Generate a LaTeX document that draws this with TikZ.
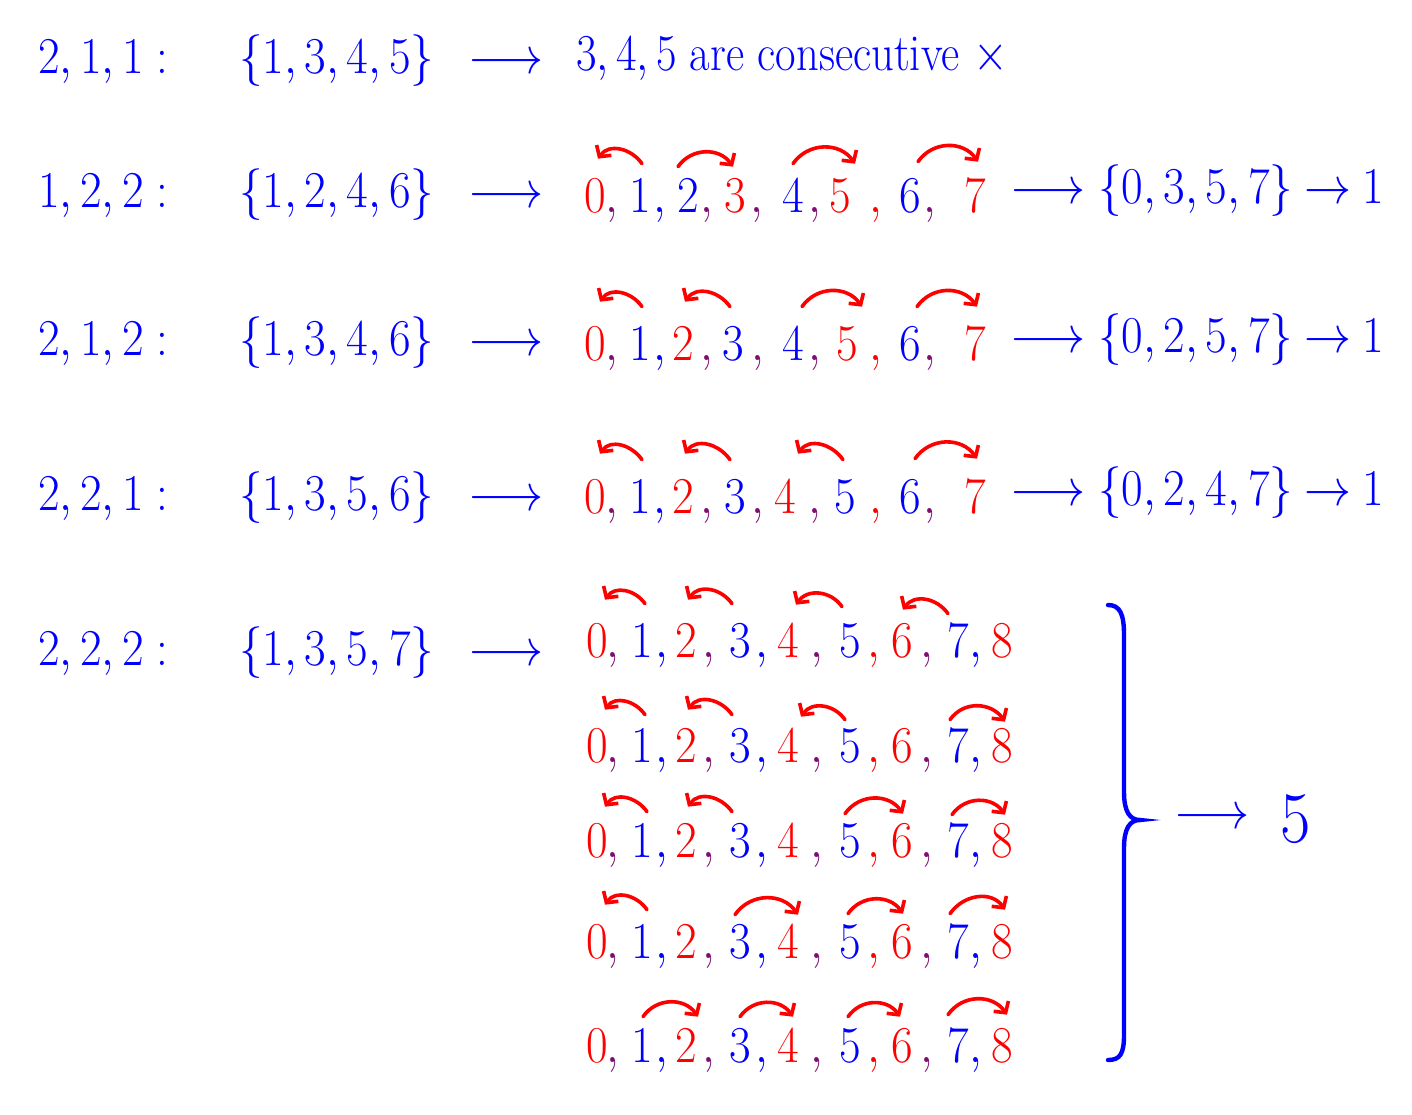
\RequirePackage{fix-cm}
\documentclass[tikz,border=0pt]{standalone}
\usepackage{graphicx}
\usetikzlibrary{arrows.meta}
\definecolor{commapurple}{rgb}{0.5,0.05,0.45}
\newcommand\V[1]{\scalebox{1}[1.1]{$#1$}}
\newcommand\C{\makebox[0pt]{$,$}}
\newcommand\jr[6]{\draw[jump] ([shift={(#2,#3)}]#1.north) to[out=55,in=125,looseness=1.1] ([shift={(#5,#6)}]#4.north);}
\newcommand\jl[6]{\draw[jump] ([shift={(#2,#3)}]#1.north) to[out=125,in=55,looseness=1.1] ([shift={(#5,#6)}]#4.north);}
\tikzset{
  lab/.style={inner sep=0pt, outer sep=0pt, font=\fontsize{23.5}{28}\selectfont},
  bl/.style={lab, text=blue, anchor=base},
  rd/.style={lab, text=red, anchor=base},
  pu/.style={lab, text=commapurple, anchor=base},
  blw/.style={lab, text=blue, anchor=base west},
  jump/.style={draw=red, line width=1.8pt, -{Straight Barb[length=4pt,width=9pt]}, line cap=round},
  brace/.style={draw=blue, line width=2.2pt, line cap=round},
}
\begin{document}
\begin{tikzpicture}[x=0.5pt,y=-0.5pt]
\fill[white] (0,0) rectangle (1412,1114);
\useasboundingbox (0,0) rectangle (1412,1114);
% ---------- left column ----------
\node[blw] (l1) at (38,73) {\V{2,1,1:}};
\node[blw] (s1) at (239,73) {\V{\{1,3,4,5\}}};
\node[blw] (a1) at (468,73) {\V{\longrightarrow}};
\node[blw, font=\fontsize{22.3}{27}\selectfont] (t1) at (576,70) {\scalebox{1}[1.16]{$3,4,5$ are consecutive $\times$}};

\node[blw] (l2) at (38,207) {\V{1,2,2:}};
\node[blw] (s2) at (239,207) {\V{\{1,2,4,6\}}};
\node[blw] (a2) at (468,207) {\V{\longrightarrow}};

\node[blw] (l3) at (38,355) {\V{2,1,2:}};
\node[blw] (s3) at (239,355) {\V{\{1,3,4,6\}}};
\node[blw] (a3) at (468,355) {\V{\longrightarrow}};

\node[blw] (l4) at (38,510) {\V{2,2,1:}};
\node[blw] (s4) at (239,510) {\V{\{1,3,5,6\}}};
\node[blw] (a4) at (468,510) {\V{\longrightarrow}};

\node[blw] (l5) at (38,665) {\V{2,2,2:}};
\node[blw] (s5) at (239,665) {\V{\{1,3,5,7\}}};
\node[blw] (a5) at (468,665) {\V{\longrightarrow}};

% ---------- row 2 : 1,2,2 ----------
\foreach \n/\x/\c in {0/595/rd,1/640/bl,2/688/bl,3/735/rd,4/793/bl,5/840/rd,6/910/bl,7/975/rd}
  \node[\c] (r2d\n) at (\x,212) {\V{\n}};
\foreach \x/\c [count=\i] in {612/pu,660/bl,707/pu,757/pu,815/pu,876/rd,930/pu}
  \node[\c] (r2c\i) at (\x,212) {\V{\C}};
\jl{r2d1}{2}{-15}{r2d0}{3}{-20}
\jr{r2d2}{-10}{-12}{r2d3}{-2}{-12}
\jr{r2d4}{0}{-15}{r2d5}{15}{-15}
\jr{r2d6}{8}{-17}{r2d7}{3}{-17}
\node[blw] (ra2) at (1010,203) {\V{\longrightarrow}};
\node[blw] (rs2) at (1098,203) {\V{\{0,3,5,7\}}};
\node[blw] (rr2) at (1304,203) {\V{\rightarrow}};
\node[blw] (rn2) at (1362,203) {\V{1}};

% ---------- row 3 : 2,1,2 ----------
\foreach \n/\x/\c in {0/595/rd,1/640/bl,2/683/rd,3/733/bl,4/793/bl,5/847/rd,6/910/bl,7/975/rd}
  \node[\c] (r3d\n) at (\x,360) {\V{\n}};
\foreach \x/\c [count=\i] in {612/pu,660/bl,707/pu,758/pu,815/pu,876/rd,930/pu}
  \node[\c] (r3c\i) at (\x,360) {\V{\C}};
\jl{r3d1}{2}{-20}{r3d0}{5}{-25}
\jl{r3d3}{-3}{-20}{r3d2}{2}{-25}
\jr{r3d4}{9}{-20}{r3d5}{15}{-20}
\jr{r3d6}{7}{-20}{r3d7}{2}{-20}
\node[blw] (ra3) at (1010,352) {\V{\longrightarrow}};
\node[blw] (rs3) at (1098,352) {\V{\{0,2,5,7\}}};
\node[blw] (rr3) at (1304,352) {\V{\rightarrow}};
\node[blw] (rn3) at (1362,352) {\V{1}};

% ---------- row 4 : 2,2,1 ----------
\foreach \n/\x/\c in {0/595/rd,1/640/bl,2/683/rd,3/735/bl,4/785/rd,5/845/bl,6/910/bl,7/975/rd}
  \node[\c] (r4d\n) at (\x,513) {\V{\n}};
\foreach \x/\c [count=\i] in {612/pu,660/bl,707/pu,758/pu,815/pu,876/rd,930/pu}
  \node[\c] (r4c\i) at (\x,513) {\V{\C}};
\jl{r4d1}{2}{-20}{r4d0}{5}{-26}
\jl{r4d3}{-5}{-20}{r4d2}{2}{-26}
\jl{r4d5}{-2}{-20}{r4d4}{13}{-26}
\jr{r4d6}{5}{-21}{r4d7}{2}{-21}
\node[blw] (ra4) at (1010,505) {\V{\longrightarrow}};
\node[blw] (rs4) at (1098,505) {\V{\{0,2,4,7\}}};
\node[blw] (rr4) at (1304,505) {\V{\rightarrow}};
\node[blw] (rn4) at (1362,505) {\V{1}};

% ---------- row 5 : 2,2,2 (five sequences) ----------
\foreach \r/\y in {A/657,B/762,C/857,D/958,E/1062}{
  \foreach \n/\x/\c in {0/597/rd,1/642/bl,2/686/rd,3/740/bl,4/788/rd,5/850/bl,6/902/rd,7/958/bl,8/1002/rd}
    \node[\c] (r5\r d\n) at (\x,\y) {\V{\n}};
  \foreach \x/\c [count=\i] in {613/pu,662/bl,709/pu,762/bl,817/pu,874/rd,927/pu,976/bl}
    \node[\c] (r5\r c\i) at (\x,\y) {\V{\C}};
}
% A
\jl{r5Ad1}{3}{-20}{r5Ad0}{8}{-24}
\jl{r5Ad3}{-8}{-20}{r5Ad2}{2}{-24}
\jl{r5Ad5}{-8}{-17}{r5Ad4}{8}{-19}
\jl{r5Ad7}{-10}{-10}{r5Ad6}{1}{-14}
% B
\jl{r5Bd1}{3}{-14}{r5Bd0}{8}{-19}
\jl{r5Bd3}{-8}{-14}{r5Bd2}{2}{-19}
\jl{r5Bd5}{-5}{-9}{r5Bd4}{13}{-12}
\jr{r5Bd7}{-8}{-9}{r5Bd8}{3}{-7}
% C
\jl{r5Cd1}{5}{-12}{r5Cd0}{8}{-17}
\jl{r5Cd3}{-8}{-12}{r5Cd2}{2}{-17}
\jr{r5Cd5}{-5}{-10}{r5Cd6}{1}{-10}
\jr{r5Cd7}{-6}{-9}{r5Cd8}{3}{-9}
% D
\jl{r5Dd1}{5}{-15}{r5Dd0}{8}{-20}
\jr{r5Dd3}{-5}{-10}{r5Dd4}{10}{-10}
\jr{r5Dd5}{-2}{-11}{r5Dd6}{1}{-11}
\jr{r5Dd7}{-8}{-11}{r5Dd8}{3}{-15}
% E
\jr{r5Ed1}{1}{-12}{r5Ed2}{12}{-12}
\jr{r5Ed3}{0}{-12}{r5Ed4}{5}{-12}
\jr{r5Ed5}{-2}{-12}{r5Ed6}{-2}{-12}
\jr{r5Ed7}{-10}{-14}{r5Ed8}{5}{-14}

% ---------- big brace and result ----------
\draw[brace] (1108,605) .. controls (1120,605) and (1124,614) .. (1124,635)
  -- (1124,792) .. controls (1124,812) and (1130,820) .. (1140,820)
  .. controls (1130,820) and (1124,828) .. (1124,848)
  -- (1124,1035) .. controls (1124,1054) and (1120,1060) .. (1108,1060);
\coordinate (tip) at (1140,820);
\node[blw] (ra5) at (1174,828) {\V{\longrightarrow}};
\node[bl, font=\fontsize{33}{38}\selectfont] (five) at (1296,842) {\scalebox{1}[1.1]{$5$}};
\end{tikzpicture}
\end{document}
